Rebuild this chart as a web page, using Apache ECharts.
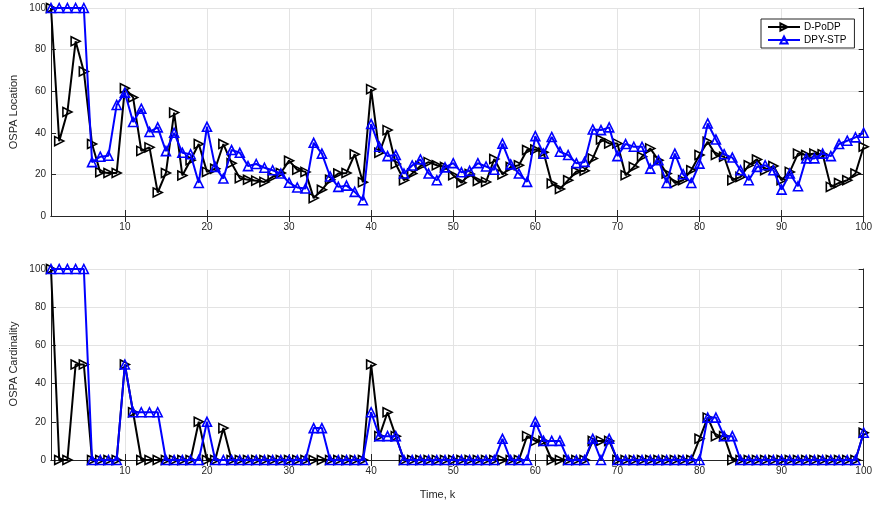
<!DOCTYPE html>
<html>
<head>
<meta charset="utf-8">
<script src="https://cdn.jsdelivr.net/npm/echarts@6/dist/echarts.min.js"></script>
<style>
  html, body { margin: 0; padding: 0; background: #fff; }
  #chart { width: 875px; height: 510px; }
</style>
</head>
<body>
<div id="chart"></div>
<script>
// Time steps k = 1..100
const timeSteps = [
  1,2,3,4,5,6,7,8,9,10,11,12,13,14,15,16,17,18,19,20,
  21,22,23,24,25,26,27,28,29,30,31,32,33,34,35,36,37,38,39,40,
  41,42,43,44,45,46,47,48,49,50,51,52,53,54,55,56,57,58,59,60,
  61,62,63,64,65,66,67,68,69,70,71,72,73,74,75,76,77,78,79,80,
  81,82,83,84,85,86,87,88,89,90,91,92,93,94,95,96,97,98,99,100
];

// OSPA location error
const locPoDP = [
  100,36,50,84,69.5,34.6,21,20.7,20.7,61.4,
  57,31.3,33,11.3,20.7,49.7,19.5,26.8,34.6,21.2,
  22.7,34.6,25.4,18.2,17.4,17,16.4,18.8,20.7,26.6,
  22.2,21.2,8.6,12.6,17.4,20.4,20.7,29.7,16.2,61,
  30.4,41.3,25,17.2,20.4,24,25.9,24.4,23.6,19.6,
  16,20.2,16.8,16.4,27.4,20,23.6,24.4,31.7,32,
  30.6,15.6,13,17.2,21.4,21.8,27.7,36.8,34.9,34.9,
  19.6,23.6,28.5,32.5,26.8,20.4,15.9,17.2,22,29.3,
  35.7,29.3,28.5,17.2,18.8,24.4,27.2,22,24,17.2,
  21.2,30,29.3,30,29.7,14,15.9,17.2,20.4,33.3
];
const locSTP = [
  100,100,100,100,100,25.9,28.5,29,53.4,59.3,
  45.2,51.6,40.4,42.6,31.2,40,30.4,29.7,15.9,42.9,
  23.6,18,31.7,30.4,24,25,23.2,22,20.4,16,
  13.7,13.2,35.2,30,19,14,14.6,11.6,7.6,44.2,
  33.3,28.8,29.3,20.4,24.3,27.2,20.4,17.2,23.4,25.4,
  21,21.7,25.4,23.8,22.2,34.8,24.8,20.4,16.4,38.4,
  30,38,30.9,29.3,25.4,26,41.6,41.3,42.6,28.8,
  34.6,33.3,33.3,22.8,26.8,15.9,30,20.1,15.9,25.2,
  44.5,36.8,29.7,28.1,22,17.2,23.6,24.4,22,12.7,
  20.4,14.3,27.7,27.7,30,28.8,34.6,36.2,37.8,40
];

// OSPA cardinality error
const cardPoDP = [
  100,0,0,50,50,0,0,0,0,50,
  25,0,0,0,0,0,0,0,20,0,
  0,16.7,0,0,0,0,0,0,0,0,
  0,0,0,0,0,0,0,0,0,50,
  12.5,25,12.5,0,0,0,0,0,0,0,
  0,0,0,0,0,0,0,0,12.5,10,
  10,0,0,0,0,0,10,10,10,0,
  0,0,0,0,0,0,0,0,0,11.1,
  22.2,12.5,12.5,0,0,0,0,0,0,0,
  0,0,0,0,0,0,0,0,0,14.3
];
const cardSTP = [
  100,100,100,100,100,0,0,0,0,50,
  25,25,25,25,0,0,0,0,0,20,
  0,0,0,0,0,0,0,0,0,0,
  0,0,16.7,16.7,0,0,0,0,0,25,
  12.5,12.5,12.5,0,0,0,0,0,0,0,
  0,0,0,0,0,11.1,0,0,0,20,
  10,10,10,0,0,0,11.1,0,11.1,0,
  0,0,0,0,0,0,0,0,0,0,
  22.2,22.2,12.5,12.5,0,0,0,0,0,0,
  0,0,0,0,0,0,0,0,0,14.3
];

const yTicks = [0, 20, 40, 60, 80, 100];
const seriesNames = ['D-PoDP', 'DPY-STP'];

const AX = '#262626';
const GRIDC = '#e3e3e3';
const FONT = 'Liberation Sans, Helvetica, Arial, sans-serif';
const every10 = (i) => (i + 1) % 10 === 0;

const triRight = 'path://M0,0 L10,5 L0,10 Z';
const triUp = 'path://M5,0 L10,9 L0,9 Z';

function xAxes(g) {
  return [
    {
      type: 'category', gridIndex: g, data: timeSteps, boundaryGap: false,
      axisLine: { lineStyle: { color: AX, width: 1 } },
      axisTick: { inside: true, length: 6, interval: every10, lineStyle: { color: AX } },
      axisLabel: { interval: every10, color: AX, fontSize: 10, fontFamily: FONT, margin: 6 },
      splitLine: { show: true, interval: every10, lineStyle: { color: GRIDC, width: 1 } }
    },
    {
      type: 'category', gridIndex: g, data: timeSteps, boundaryGap: false, position: 'top',
      axisLine: { lineStyle: { color: AX, width: 1 } },
      axisTick: { inside: true, length: 6, interval: every10, lineStyle: { color: AX } },
      axisLabel: { show: false },
      splitLine: { show: false }
    }
  ];
}

function yAxes(g) {
  return [
    {
      type: 'value', gridIndex: g, min: yTicks[0], max: yTicks[yTicks.length - 1], interval: 20,
      axisLine: { show: true, lineStyle: { color: AX, width: 1 } },
      axisTick: { show: true, inside: true, length: 5, lineStyle: { color: AX } },
      axisLabel: { color: AX, fontSize: 10, fontFamily: FONT, margin: 5 },
      splitLine: { show: true, lineStyle: { color: GRIDC, width: 1 } }
    },
    {
      type: 'value', gridIndex: g, min: yTicks[0], max: yTicks[yTicks.length - 1], interval: 20,
      position: 'right',
      axisLine: { show: true, lineStyle: { color: AX, width: 1 } },
      axisTick: { show: true, inside: true, length: 5, lineStyle: { color: AX } },
      axisLabel: { show: false },
      splitLine: { show: false }
    }
  ];
}

function lineSeries(name, data, g, color, symbol, size, z) {
  return {
    name: name, type: 'line', data: data,
    xAxisIndex: g * 2, yAxisIndex: g * 2,
    symbol: symbol, symbolSize: size, showAllSymbol: true,
    lineStyle: { color: color, width: 2 },
    itemStyle: { color: 'rgba(255,255,255,0)', borderColor: color, borderWidth: 1.6 },
    emphasis: { disabled: true },
    animation: false, z: z
  };
}

const chart = echarts.init(document.getElementById('chart'), null, { renderer: 'canvas' });
chart.setOption({
  backgroundColor: '#ffffff',
  animation: false,
  grid: [
    { left: 51, right: 9, top: 8, height: 208 },
    { left: 51, right: 9, top: 269, height: 191 }
  ],
  xAxis: [...xAxes(0), ...xAxes(1)],
  yAxis: [...yAxes(0), ...yAxes(1)],
  legend: {
    left: 761, top: 19, orient: 'vertical',
    data: seriesNames,
    backgroundColor: '#fff',
    borderColor: AX, borderWidth: 1,
    padding: [3, 8, 3, 6],
    itemGap: 3, itemWidth: 32, itemHeight: 9,
    textStyle: { color: '#000', fontSize: 10, fontFamily: FONT, padding: [0, 0, 0, -1] }
  },
  graphic: [
    { type: 'text', left: 'center', x: 0, top: 489,
      style: { text: 'Time, k', fill: AX, font: '11px ' + FONT } },
    { type: 'text', x: 14, y: 112, rotation: Math.PI / 2, origin: [0, 0],
      style: { text: 'OSPA Location', fill: AX, font: '11px ' + FONT, align: 'center', verticalAlign: 'middle' } },
    { type: 'text', x: 14, y: 364, rotation: Math.PI / 2, origin: [0, 0],
      style: { text: 'OSPA Cardinality', fill: AX, font: '11px ' + FONT, align: 'center', verticalAlign: 'middle' } }
  ],
  series: [
    lineSeries(seriesNames[0], locPoDP, 0, '#000000', triRight, 9, 2),
    lineSeries(seriesNames[1], locSTP, 0, '#0000ff', triUp, 9, 3),
    lineSeries(seriesNames[0], cardPoDP, 1, '#000000', triRight, 9, 2),
    lineSeries(seriesNames[1], cardSTP, 1, '#0000ff', triUp, 9, 3)
  ]
});
</script>
</body>
</html>
